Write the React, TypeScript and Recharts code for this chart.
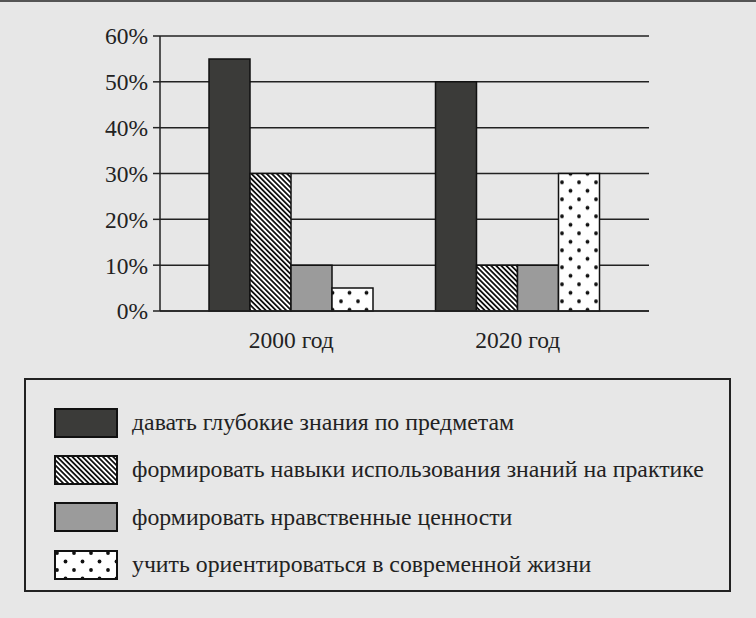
import { BarChart, Bar, XAxis, YAxis, CartesianGrid } from 'recharts'

// Survey: what school should do (share of answers)
const years = ['2000 год', '2020 год']
const deepKnowledge = [55, 50]
const practiceSkills = [30, 10]
const moralValues = [10, 10]
const modernLife = [5, 30]
const yTicks = [0, 10, 20, 30, 40, 50, 60]

const seriesNames = [
  'давать глубокие знания по предметам',
  'формировать навыки использования знаний на практике',
  'формировать нравственные ценности',
  'учить ориентироваться в современной жизни',
]

const chartData = years.map((year, i) => ({
  year,
  deep: deepKnowledge[i],
  practice: practiceSkills[i],
  moral: moralValues[i],
  modern: modernLife[i],
}))

const FONT = '"Liberation Serif", serif'
const INK = '#222'
const BG = '#e7e7e7'
const DARK = '#3b3b39'
const GRAY = '#9b9b9b'

function Patterns({ suffix, dx = 0, dy = 0 }: { suffix: string; dx?: number; dy?: number }) {
  return (
    <defs>
      <pattern
        id={`hatch${suffix}`}
        patternUnits="userSpaceOnUse"
        width={3.6}
        height={3.6}
        patternTransform="rotate(-45)"
      >
        <rect width={3.6} height={3.6} fill="#fff" />
        <rect width={1.8} height={3.6} fill="#111" />
      </pattern>
      <pattern id={`dots${suffix}`} patternUnits="userSpaceOnUse" x={dx} y={dy} width={17} height={17}>
        <rect width={17} height={17} fill="#fff" />
        <circle cx={4} cy={4} r={1.9} fill="#111" />
        <circle cx={12.5} cy={12.5} r={1.9} fill="#111" />
      </pattern>
    </defs>
  )
}

const fills = [DARK, 'url(#hatchL)', GRAY, 'url(#dotsL)']

function Swatch({ fill }: { fill: string }) {
  return (
    <svg width={64} height={30} style={{ display: 'block', flex: 'none' }}>
      <Patterns suffix="L" dx={-1} dy={-1} />
      <rect x={1} y={1} width={62} height={28} fill={fill} stroke="#111" strokeWidth={2} />
    </svg>
  )
}

export default function App() {
  return (
    <div
      style={{
        width: 756,
        height: 618,
        background: BG,
        position: 'relative',
        fontFamily: FONT,
        overflow: 'hidden',
      }}
    >
      <style>{'body{margin:0}'}</style>
      <div style={{ position: 'absolute', left: 0, top: 0, width: 756, height: 2, background: '#555' }} />
      <BarChart
        width={756}
        height={370}
        data={chartData}
        margin={{ top: 36, right: 107, left: 0, bottom: 0 }}
        barGap={0}
        barSize={41}
        style={{ fontFamily: FONT }}
      >
        <Patterns suffix="C" dx={-3} dy={8.3} />
        <CartesianGrid vertical={false} stroke={INK} strokeWidth={1.5} strokeOpacity={1} />
        <XAxis
          dataKey="year"
          height={59}
          padding={{ left: 18, right: 18 }}
          tickLine={false}
          tickMargin={14}
          axisLine={{ stroke: INK, strokeWidth: 1.5 }}
          tick={{ fill: INK, fontSize: 23.5, fontFamily: FONT }}
        />
        <YAxis
          width={160}
          domain={[0, 60]}
          ticks={yTicks}
          interval={0}
          tickFormatter={(v: number) => `${v}%`}
          tickSize={7}
          tickMargin={5}
          tickLine={{ stroke: INK, strokeWidth: 1.5 }}
          axisLine={{ stroke: INK, strokeWidth: 1.5 }}
          tick={{ fill: INK, fontSize: 23.5, fontFamily: FONT }}
        />
        <YAxis
          yAxisId="frame"
          orientation="right"
          width={0}
          domain={[0, 60]}
          tick={false}
          tickLine={false}
          axisLine={{ stroke: INK, strokeWidth: 1.5 }}
        />
        <Bar dataKey="deep" fill={DARK} stroke="#111" strokeWidth={1.5} isAnimationActive={false} />
        <Bar dataKey="practice" fill="url(#hatchC)" stroke="#111" strokeWidth={1.5} isAnimationActive={false} />
        <Bar dataKey="moral" fill={GRAY} stroke="#111" strokeWidth={1.5} isAnimationActive={false} />
        <Bar dataKey="modern" fill="url(#dotsC)" stroke="#111" strokeWidth={1.5} isAnimationActive={false} />
      </BarChart>

      <div
        style={{
          position: 'absolute',
          left: 24,
          top: 378,
          width: 707,
          height: 214,
          boxSizing: 'border-box',
          border: `2px solid ${INK}`,
          paddingTop: 19,
          paddingLeft: 28,
        }}
      >
        {seriesNames.map((name, i) => (
          <div key={name} style={{ display: 'flex', alignItems: 'center', height: 47.3 }}>
            <Swatch fill={fills[i]} />
            <span style={{ marginLeft: 14, fontSize: 23.8, color: INK, whiteSpace: 'nowrap', fontFamily: FONT }}>
              {name}
            </span>
          </div>
        ))}
      </div>
    </div>
  )
}
